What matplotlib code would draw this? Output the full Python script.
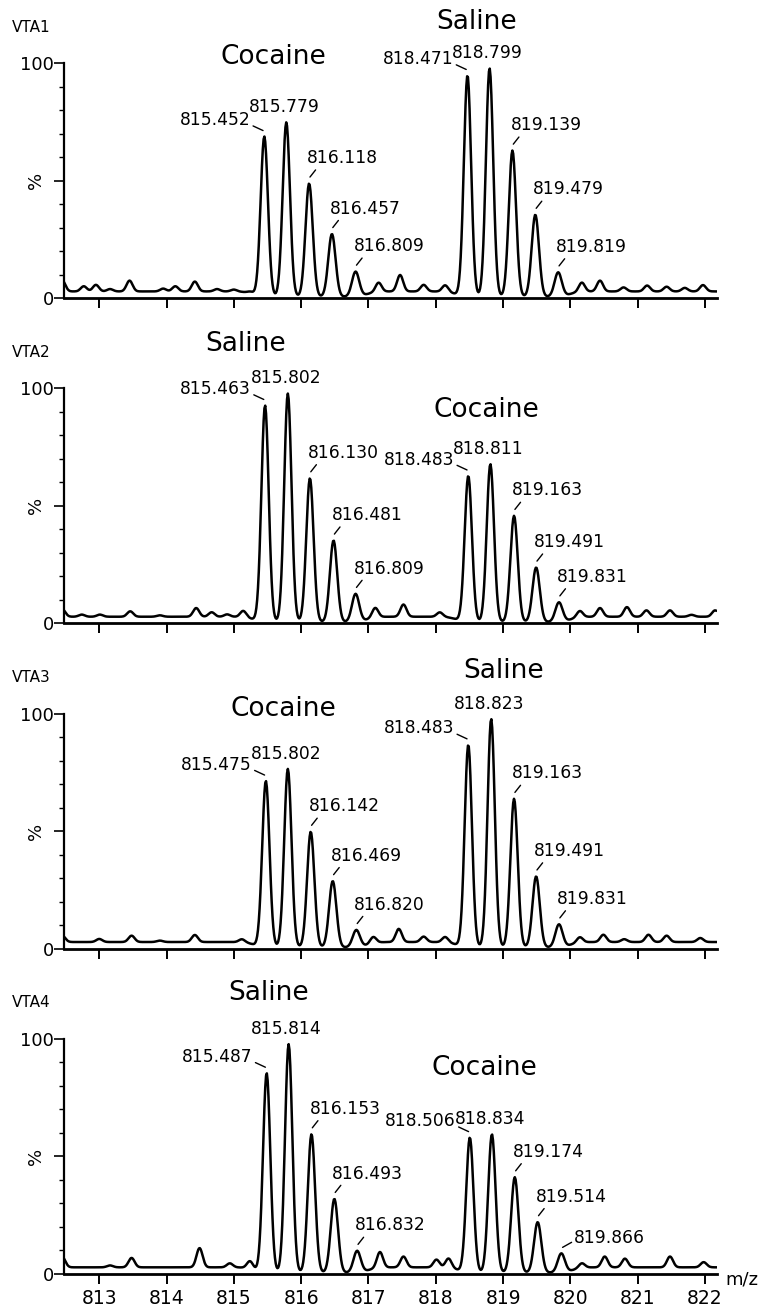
import matplotlib

matplotlib.use("Agg")
import matplotlib.pyplot as plt
import numpy as np
from matplotlib.ticker import MultipleLocator

PANEL_NAMES = ["VTA1", "VTA2", "VTA3", "VTA4"]

# labelled isotope peaks: m/z and relative intensity (%)
VTA1_MZ = [815.452, 815.779, 816.118, 816.457, 816.809, 818.471, 818.799, 819.139, 819.479, 819.819]
VTA1_INT = [71, 77, 51, 29.5, 13.5, 97, 100, 65, 37.7, 13.2]
VTA2_MZ = [815.463, 815.802, 816.130, 816.481, 816.809, 818.483, 818.811, 819.163, 819.491, 819.831]
VTA2_INT = [95, 100, 64, 37.5, 14.8, 65, 70, 48, 26, 11.2]
VTA3_MZ = [815.475, 815.802, 816.142, 816.469, 816.820, 818.483, 818.823, 819.163, 819.491, 819.831]
VTA3_INT = [73.6, 78.7, 52, 31, 10.2, 89, 100, 66, 33, 12.6]
VTA4_MZ = [815.487, 815.814, 816.153, 816.493, 816.832, 818.506, 818.834, 819.174, 819.514, 819.866]
VTA4_INT = [87.7, 100, 61.7, 34.2, 12.1, 60.3, 61.7, 43.4, 24.3, 11]

# small unlabelled bumps of the baseline
VTA1_NOISE_MZ = [812.45, 812.77, 812.95, 813.16, 813.45, 813.95, 814.13, 814.42, 814.75,
                 815.0, 815.25, 817.15, 817.47, 817.82, 818.14, 820.17, 820.44, 820.79,
                 821.14, 821.43, 821.7, 821.97]
VTA1_NOISE_INT = [7.5, 5.0, 5.6, 3.8, 7.4, 4.0, 5.0, 7.0, 3.8, 3.6, 3.6, 6.7, 9.8, 5.6, 5.6,
                  6.7, 7.4, 4.5, 5.3, 4.8, 4.3, 5.5]
VTA2_NOISE_MZ = [812.45, 812.74, 813.01, 813.46, 813.9, 814.44, 814.67, 814.9, 815.14,
                 817.10, 817.52, 818.06, 820.14, 820.44, 820.84, 821.13, 821.48, 821.8, 822.15]
VTA2_NOISE_INT = [6.0, 3.7, 3.7, 5.1, 3.4, 6.5, 4.7, 3.8, 5.5, 6.9, 8.0, 4.7, 5.5, 6.5, 6.9,
                  5.5, 5.5, 3.6, 5.5]
VTA3_NOISE_MZ = [812.45, 813.0, 813.48, 813.9, 814.42, 815.12, 817.07, 817.45, 817.82,
                 818.14, 820.14, 820.49, 820.8, 821.16, 821.43, 821.93]
VTA3_NOISE_INT = [5.5, 4.1, 5.5, 3.4, 5.8, 4.1, 5.5, 8.4, 5.1, 5.1, 5.1, 5.9, 4.0, 5.9, 5.5,
                  4.5]
VTA4_NOISE_MZ = [812.45, 813.16, 813.48, 814.49, 814.94, 815.24, 817.17, 817.52, 818.01,
                 818.19, 820.17, 820.51, 820.81, 821.48, 821.98]
VTA4_NOISE_INT = [7.2, 3.6, 6.8, 11, 4.5, 6.0, 9.5, 7.4, 6.1, 6.8, 4.8, 7.4, 6.5, 7.4, 5.0]

# group names of the two isotope clusters in each run
GROUP_NAMES = [("Cocaine", "Saline"), ("Saline", "Cocaine"),
               ("Cocaine", "Saline"), ("Saline", "Cocaine")]

PEAKS = [(VTA1_MZ, VTA1_INT), (VTA2_MZ, VTA2_INT), (VTA3_MZ, VTA3_INT), (VTA4_MZ, VTA4_INT)]
NOISE = [(VTA1_NOISE_MZ, VTA1_NOISE_INT), (VTA2_NOISE_MZ, VTA2_NOISE_INT),
         (VTA3_NOISE_MZ, VTA3_NOISE_INT), (VTA4_NOISE_MZ, VTA4_NOISE_INT)]

# layout only: where the group names sit (m/z, % units)
GROUP_POS = [[(815.58, 102.5), (818.60, 117.4)],
             [(815.17, 119.0), (818.75, 90.6)],
             [(815.73, 102.0), (819.00, 118.0)],
             [(815.51, 119.6), (818.72, 87.7)]]
LABEL_SIDE = ["left", "top", "right", "right", "right"]

FIG_W, FIG_H = 759, 1307
AX_LEFT, AX_RIGHT = 64, 716.7
AX_TOP0, AX_H, PITCH = 63, 235, 325.3
XMIN, XMAX = 812.476, 822.174
BASE = 2.8
PEAK_SIGMA = 0.054
NOISE_SIGMA = 0.045
FONT = "DejaVu Sans"


def profile(x, peaks, noise):
    pk_mz, pk_int = peaks
    nz_mz, nz_int = noise
    env = np.zeros_like(x)
    y = np.zeros_like(x)
    for c, h in zip(pk_mz, pk_int):
        y += (h - BASE) * np.exp(-((x - c) ** 2) / (2 * PEAK_SIGMA ** 2))
        env += np.exp(-((x - c) ** 2) / (2 * 0.15 ** 2))
    base = BASE * (1 - 0.8 * np.clip(env, 0, 1))
    for c, h in zip(nz_mz, nz_int):
        base += (h - BASE) * np.exp(-((x - c) ** 2) / (2 * NOISE_SIGMA ** 2))
    return base + y


def label_peak(ax, mz, h, side):
    txt = f"{mz:.3f}"
    common = dict(textcoords="offset pixels", fontsize=12.3, family=FONT,
                  annotation_clip=False)
    line = dict(arrowstyle="-", lw=1.0, color="black", shrinkA=0, shrinkB=1)
    if side == "left":
        ax.annotate(txt, xy=(mz, h), xytext=(-14, 11), ha="right", va="center",
                    arrowprops=dict(line, relpos=(1.0, 0.25)), **common)
    elif side == "top":
        ax.annotate(txt, xy=(mz, h), xytext=(-2, 1), ha="center", va="bottom", **common)
    elif side == "side":
        ax.annotate(txt, xy=(mz, h), xytext=(13, 10), ha="left", va="center",
                    arrowprops=dict(line, relpos=(0.0, 0.35)), **common)
    else:
        ax.annotate(txt, xy=(mz, h), xytext=(-2, 11), ha="left", va="bottom",
                    arrowprops=dict(line, relpos=(0.15, 0.0)), **common)


def draw_panel(ax, k):
    x = np.arange(XMIN - 0.01, XMAX, 0.012)
    ax.plot(x, profile(x, PEAKS[k], NOISE[k]), color="black", lw=1.8)
    ax.set_xlim(XMIN, XMAX)
    ax.set_ylim(0, 100)

    ax.spines["top"].set_visible(False)
    ax.spines["right"].set_visible(False)
    ax.spines["left"].set_linewidth(1.6)
    ax.spines["bottom"].set_linewidth(2.0)

    ax.set_yticks([0, 50, 100])
    ax.set_yticklabels(["0", "", "100"], fontsize=13, family=FONT)
    ax.yaxis.set_minor_locator(MultipleLocator(10))
    ax.tick_params(axis="y", which="major", length=7, width=1.2, pad=0)
    ax.tick_params(axis="y", which="minor", length=3.5, width=1.0)
    ax.annotate("%", xy=(0, 50), xycoords=("axes fraction", "data"), xytext=(-28, 0),
                textcoords="offset pixels", rotation=90, ha="center", va="center",
                fontsize=13, family=FONT)

    ax.set_xticks(range(813, 823))
    ax.tick_params(axis="x", which="major", length=7, width=1.4, pad=4,
                   labelbottom=(k == 3), labelsize=13.5)

    pk_mz, pk_int = PEAKS[k]
    for i, (mz, h) in enumerate(zip(pk_mz, pk_int)):
        side = LABEL_SIDE[i % 5]
        if k == 3 and i == 9:
            side = "side"
        label_peak(ax, mz, h, side)

    for name, (gx, gy) in zip(GROUP_NAMES[k], GROUP_POS[k]):
        ax.text(gx, gy, name, ha="center", va="center", fontsize=19, family=FONT,
                clip_on=False)


def main():
    plt.rcParams["font.family"] = FONT
    fig = plt.figure(figsize=(FIG_W / 100, FIG_H / 100), dpi=100)
    for k, name in enumerate(PANEL_NAMES):
        top = AX_TOP0 + k * PITCH
        ax = fig.add_axes([AX_LEFT / FIG_W, 1 - (top + AX_H) / FIG_H,
                           (AX_RIGHT - AX_LEFT) / FIG_W, AX_H / FIG_H])
        draw_panel(ax, k)
        fig.text(12 / FIG_W, 1 - (27 + k * PITCH) / FIG_H, name, ha="left", va="center",
                 fontsize=11)
    fig.text(725 / FIG_W, 1 - 1279 / FIG_H, "m/z", ha="left", va="center", fontsize=13)
    fig.savefig("out.png", dpi=100)
    plt.close(fig)


if __name__ == "__main__":
    main()
